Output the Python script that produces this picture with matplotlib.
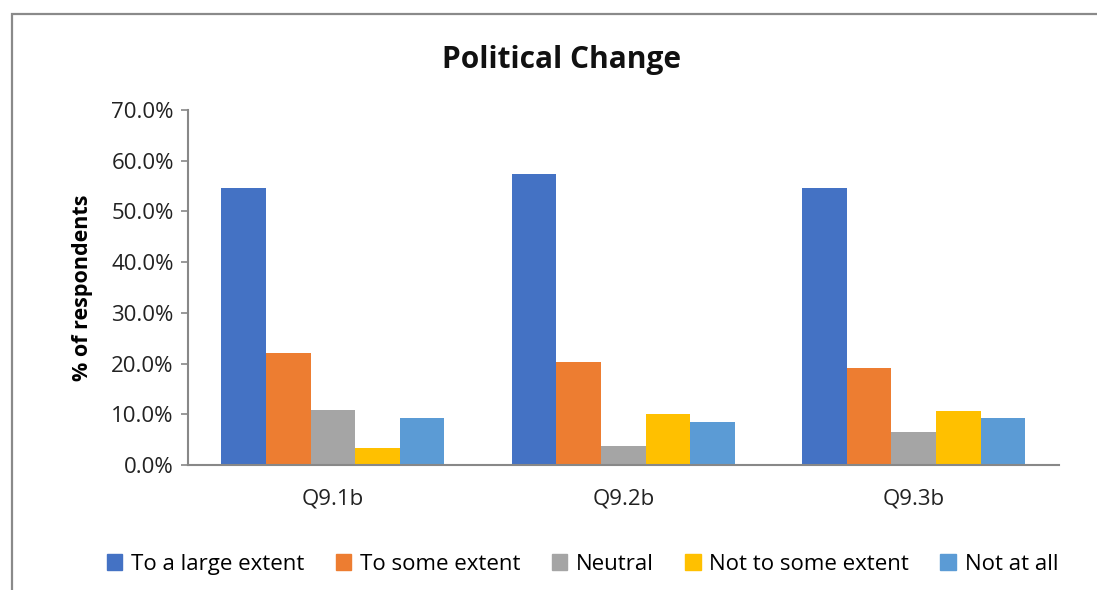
import matplotlib.pyplot as plt
import matplotlib.patches as mpatches
import numpy as np
from matplotlib.ticker import PercentFormatter

plt.rcParams['font.family'] = ['Open Sans', 'DejaVu Sans']

# survey answers per question (% of respondents)
questions = ["Q9.1b", "Q9.2b", "Q9.3b"]
large_extent = [54.6, 57.3, 54.6]
some_extent = [22.1, 20.3, 19.2]
neutral = [10.8, 3.8, 6.5]
not_some_extent = [3.4, 10.1, 10.6]
not_at_all = [9.2, 8.5, 9.2]

series = [
    ("To a large extent", large_extent, "#4472C4"),
    ("To some extent", some_extent, "#ED7D31"),
    ("Neutral", neutral, "#A5A5A5"),
    ("Not to some extent", not_some_extent, "#FFC000"),
    ("Not at all", not_at_all, "#5B9BD5"),
]

fig = plt.figure(figsize=(10.97, 5.90), dpi=100)
ax = fig.add_axes([0.1711, 0.2119, 0.7942, 0.6017])

x = np.arange(len(questions))
w = 0.1536
for i, (name, vals, col) in enumerate(series):
    ax.bar(x + (i - 2) * w, vals, w, color=col, label=name)

ax.set_xlim(-0.5, 2.5)
ax.set_ylim(0, 70)
ax.set_yticks(np.arange(0, 71, 10))
ax.yaxis.set_major_formatter(PercentFormatter(decimals=1))
ax.set_xticks(x)
ax.set_xticklabels(questions)
ax.tick_params(axis='x', length=0, pad=17, labelsize=16, colors='#222222')
ax.tick_params(axis='y', length=5, width=1.2, color='#888888', pad=5,
               labelsize=16, labelcolor='#222222')
for s in ['top', 'right']:
    ax.spines[s].set_visible(False)
for s in ['left', 'bottom']:
    ax.spines[s].set_color('#888888')
    ax.spines[s].set_linewidth(1.5)

ax.set_ylabel("% of respondents", fontsize=15.5, fontweight='bold', labelpad=13)
fig.text(0.512, 0.898, "Political Change", ha='center', va='center',
         fontsize=21.5, fontweight='bold', color='#111111')

handles = [mpatches.Patch(color=c, label=n) for n, _, c in series]
fig.legend(handles=handles, loc='center', bbox_to_anchor=(0.531, 0.044), ncol=5,
           frameon=False, fontsize=16, handlelength=0.7, handleheight=0.7,
           handletextpad=0.4, columnspacing=1.4)

# outer chart frame, running off the right and bottom edges
frame = mpatches.Rectangle((12 / 1097, -0.1), 1.2, 1 - 14 / 590 + 0.1,
                           transform=fig.transFigure, fill=False,
                           edgecolor='#8a8a8a', linewidth=1.6)
fig.patches.append(frame)

fig.savefig("out.png", dpi=100)
